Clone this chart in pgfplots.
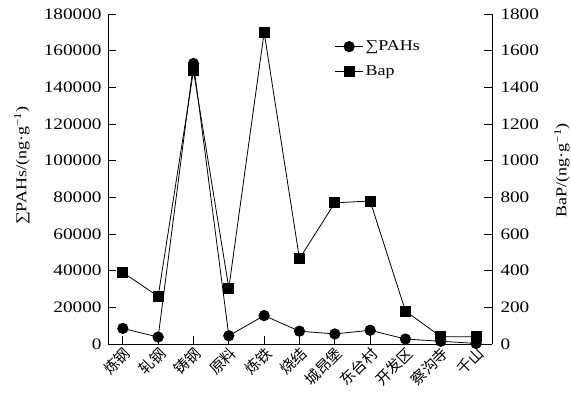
\documentclass[border=0pt]{standalone}
\usepackage{fontspec}
\setmainfont{Liberation Serif}[FakeStretch=1.2]
\newfontfamily\cjk{Noto Sans CJK SC}
\usepackage{pgfplots}
\usepackage{pgfplotstable}
\pgfplotsset{compat=1.18}
\pgfplotstableread{
x pahs bap
0 8500 390
1 3800 260
2 153000 1490
3 4500 305
4 15500 1700
5 7000 465
6 5500 770
7 7500 780
8 2700 180
9 1500 40
10 300 40
}\data
\begin{document}
\begin{tikzpicture}
\pgfplotsset{
  common/.style={
    at={(0,0)}, anchor=south west, scale only axis,
    width=384pt, height=330pt,
    xmin=-0.42, xmax=10.45,
    tick align=inside, major tick length=8pt,
    /pgf/number format/assume math mode=true,
    scaled y ticks=false,
    yticklabel style={/pgf/number format/fixed, /pgf/number format/1000 sep={}, font=\fontsize{16}{19}\selectfont},
    axis line style={line width=0.8pt},
    every tick/.style={black, line width=0.8pt},
  }
}
\begin{axis}[common,
  ymin=0, ymax=180000,
  axis x line*=bottom, axis y line*=left,
  ytick={0,20000,...,180000},
  yticklabel style={xshift=-3pt},
  xtick={0,...,10},
  xticklabels={炼钢,轧钢,铸钢,原料,炼铁,烧结,城昂堡,东台村,开发区,察沟寺,千山},
  xticklabel style={rotate=45, anchor=east, font=\cjk\fontsize{15}{17}\selectfont, yshift=-8pt, xshift=2pt},
  every axis y label/.style={at={(axis description cs:-0.224,0.54)}, rotate=90, anchor=center, font=\fontsize{15}{18}\selectfont},
  ylabel={∑PAHs/(ng·g\textsuperscript{−1})},
]
\addplot[black, line width=0.8pt, mark=*, mark size=5.2pt] table[x=x, y=pahs] {\data};
\end{axis}
\begin{axis}[common,
  ymin=0, ymax=1800,
  axis x line=none, axis y line*=right,
  ytick={0,200,...,1800},
  yticklabel style={xshift=5pt},
  every axis y label/.style={at={(axis description cs:1.182,0.527)}, rotate=90, anchor=center, font=\fontsize{15}{18}\selectfont},
  ylabel={BaP/(ng·g\textsuperscript{−1})},
  legend style={draw=none, fill=none, at={(axis description cs:0.59,0.925)}, anchor=north west,
    font=\fontsize{15}{18}\selectfont, row sep=9pt, inner sep=0pt},
  legend cell align=left,
  legend image code/.code={\draw[#1, mark=none] (0pt,0pt) -- (28pt,0pt);
    \draw[#1] plot coordinates {(14pt,0pt)};},
]
\addlegendimage{black, line width=0.8pt, mark=*, mark size=5.2pt}
\addlegendentry{∑PAHs}
\addplot[black, line width=0.8pt, mark=square*, mark size=5pt] table[x=x, y=bap] {\data};
\addlegendentry{Bap}
\end{axis}
\pgfresetboundingbox
\path (-108pt,-48pt) rectangle (463pt,344pt);
\end{tikzpicture}
\end{document}
